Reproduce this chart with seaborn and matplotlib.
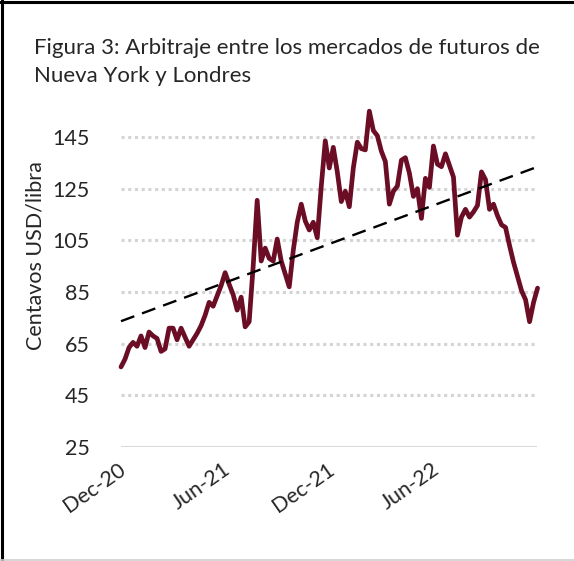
import matplotlib
matplotlib.use("Agg")
import matplotlib.pyplot as plt
import matplotlib.transforms as mtransforms
from matplotlib.lines import Line2D
import seaborn as sns
import pandas as pd
import numpy as np

# ---- data ----
start_date = "2020-12-01"
arbitraje = [
    56, 59, 63.5, 65.5, 64, 68, 63.5, 69.5, 68, 67,
    62, 63, 71, 71, 66.5, 71, 67.5, 64, 66.5, 69,
    72, 76, 81, 79.5, 83.5, 87.5, 92.5, 88, 84, 78,
    83, 71.5, 73.5, 95, 120.5, 97, 102, 98, 97, 105.5,
    97, 92, 87, 101, 112, 119, 112.5, 109, 112, 106,
    126, 143.5, 133, 141, 131.5, 120, 124, 118, 133, 143,
    140.5, 140, 155, 147.5, 145.5, 139.5, 135.5, 119, 124, 126,
    136, 137, 131, 122, 125, 113.5, 129, 125.5, 141.5, 134.5,
    133.5, 138.5, 134, 129.5, 107, 114, 117, 114, 116, 118.5,
    131.5, 128.5, 117, 119, 114.5, 111, 110, 103, 96.5, 91,
    85.5, 82, 73.5, 81, 86.5,
]
trend_dates = ["2020-12-01", "2022-11-28"]
trend_values = [73.7, 133.4]
y_ticks = [25, 45, 65, 85, 105, 125, 145]
x_tick_dates = ["2020-12-01", "2021-06-01", "2021-12-01", "2022-06-01"]
x_tick_labels = ["Dec-20", "Jun-21", "Dec-21", "Jun-22"]
title_lines = ["Figura 3: Arbitraje entre los mercados de futuros de",
               "Nueva York y Londres"]
y_label = "Centavos USD/libra"

df = pd.DataFrame({
    "fecha": pd.date_range(start_date, periods=len(arbitraje), freq="7D"),
    "valor": arbitraje,
})
df_trend = pd.DataFrame({"fecha": pd.to_datetime(trend_dates), "valor": trend_values})

# ---- style ----
sns.set_style("white")
plt.rcParams["font.family"] = ["Lato", "DejaVu Sans"]

W, H = 574, 561
fig = plt.figure(figsize=(W / 100, H / 100), dpi=100)
ax = fig.add_axes([121 / W, 1 - 447 / H, (537 - 121) / W, (447 - 106) / H])

line_color = "#6b0d25"
sns.lineplot(data=df, x="fecha", y="valor", color=line_color, lw=3.4, ax=ax,
             zorder=3)
sns.lineplot(data=df_trend, x="fecha", y="valor", color="black", lw=1.7, ax=ax, zorder=4)
ax.lines[-1].set_dashes([6, 3.5])
for ln in ax.lines:
    ln.set_clip_on(False)

ax.set_ylim(25, 157)
ax.set_xlim(pd.Timestamp(trend_dates[0]), pd.Timestamp(trend_dates[1]))
ax.set_yticks(y_ticks)
ax.set_yticklabels([str(v) for v in y_ticks], fontsize=15.5)
ax.set_xticks(pd.to_datetime(x_tick_dates))
ax.set_xticklabels(x_tick_labels, fontsize=15.5, rotation=35, ha="right",
                   rotation_mode="anchor")
ax.tick_params(axis="both", length=0)
ax.tick_params(axis="y", pad=0)
ax.tick_params(axis="x", pad=9)
yshift = mtransforms.ScaledTranslation(-31 / 100, 0, fig.dpi_scale_trans)
for lab in ax.get_yticklabels():
    lab.set_transform(lab.get_transform() + yshift)
xshift = mtransforms.ScaledTranslation(-3 / 100, 0, fig.dpi_scale_trans)
for lab in ax.get_xticklabels():
    lab.set_transform(lab.get_transform() + xshift)

for v in y_ticks[1:]:
    ax.axhline(v, color="#d4d4d4", lw=2.2, ls=(0, (1, 1.2)), zorder=1)
ax.axhline(25, color="#d9d9d9", lw=1.5, zorder=1)

for s in ax.spines.values():
    s.set_visible(False)
ax.set_xlabel("")
ax.set_ylabel(y_label, fontsize=15.5)
ax.yaxis.set_label_coords((46 - 121) / 416, (447 - 256) / 341)

fig.text(34 / W, 1 - 54 / H, title_lines[0], fontsize=16, ha="left", va="baseline")
fig.text(34 / W, 1 - 82 / H, title_lines[1], fontsize=16, ha="left", va="baseline")

# frame of the figure
fig.add_artist(Line2D([0, 1], [1 - 2 / H, 1 - 2 / H], color="black", lw=2.2))
fig.add_artist(Line2D([2 / W, 2 / W], [0, 1], color="black", lw=2.2))
fig.add_artist(Line2D([0, 1], [1 / H, 1 / H], color="#cfcfcf", lw=1.2))

fig.savefig("out.png", dpi=100)
